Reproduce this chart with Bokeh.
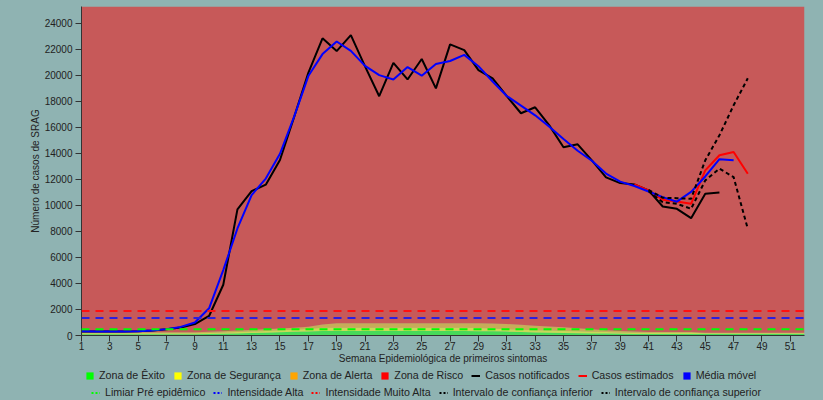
from bokeh.plotting import figure
from bokeh.layouts import column
from bokeh.models import Legend, LegendItem, FixedTicker, Range1d, Span
from bokeh.embed import file_html
from bokeh.resources import INLINE

# ---------------- data ----------------
weeks = list(range(1, 53))
week_ticks = list(range(1, 53, 2))

notified_weeks = list(range(1, 47))
notified = [300, 310, 310, 300, 320, 380, 480, 620, 880, 1500,
            3900, 9700, 11100, 11600, 13500, 16800, 20200, 22850, 21870, 23100,
            20700, 18400, 20970, 19690, 21260, 19000, 22390, 21950, 20410, 19770,
            18400, 17090, 17550, 16160, 14470, 14700, 13470, 12160, 11720, 11620,
            11160, 9920, 9740, 9020, 10900, 11000]

estimated_weeks = [40, 41, 42, 43, 44, 45, 46, 47, 48]
estimated = [11620, 11160, 10440, 10310, 10130, 12700, 13860, 14110, 12440]

ci_weeks = [41, 42, 43, 44, 45, 46, 47, 48]
ci_lower = [11100, 10250, 10130, 9740, 11930, 12830, 12180, 8200]
ci_upper = [11200, 10590, 10560, 10510, 13470, 15400, 17700, 19780]

mm_weeks = list(range(1, 48))
moving_avg = [330, 310, 310, 310, 330, 390, 490, 660, 1000, 2090,
              5030, 8230, 10800, 12070, 13970, 16830, 19950, 21640, 22610, 21890,
              20730, 20020, 19690, 20640, 19980, 20880, 21110, 21580, 20710, 19530,
              18420, 17680, 16930, 16060, 15110, 14210, 13440, 12450, 11830, 11500,
              11070, 10640, 10290, 11050, 12230, 13560, 13470]

# zone upper limits (cumulative)
zone_green = [100, 100, 100, 100, 100, 100, 100, 100, 100, 110,
              130, 160, 190, 220, 250, 280, 310, 340, 340, 340,
              340, 340, 340, 340, 340, 340, 340, 340, 330, 320,
              300, 270, 240, 220, 200, 180, 160, 150, 140, 120,
              120, 120, 120, 120, 120, 120, 120, 120, 120, 120,
              120, 120]
zone_yellow = [180, 180, 180, 180, 180, 180, 180, 180, 180, 200,
               230, 270, 310, 350, 400, 450, 500, 600, 600, 600,
               600, 600, 600, 600, 600, 600, 600, 600, 580, 540,
               480, 440, 410, 380, 350, 320, 290, 260, 230, 210,
               210, 210, 210, 210, 180, 180, 180, 180, 180, 180,
               180, 180]
zone_orange = [250, 250, 250, 250, 250, 250, 250, 250, 250, 280,
               330, 380, 430, 480, 540, 600, 680, 850, 950, 950,
               950, 950, 950, 950, 950, 950, 950, 950, 950, 920,
               880, 820, 750, 700, 640, 560, 480, 400, 350, 300,
               270, 270, 270, 270, 220, 220, 220, 220, 220, 220,
               220, 220]
y_max = 25300

limiar_pre = 490
intensidade_alta = 1340
intensidade_muito_alta = 1880

# ---------------- figure ----------------
BG = "#8fb3b2"
FONT = "Liberation Sans"
STY = {"background-color": BG}
NAN = float("nan")

p = figure(frame_width=723, frame_height=329,
           x_range=Range1d(1, 52), y_range=Range1d(0, y_max),
           output_backend="svg", toolbar_location=None,
           min_border_left=81, min_border_right=19, min_border_top=6, min_border_bottom=31,
           background_fill_color=BG, border_fill_color=BG, outline_line_color=None,
           styles=STY)
p.grid.visible = False

# zones
p.varea(x=weeks, y1=[0] * 52, y2=zone_green, fill_color="#00ff00", fill_alpha=0.5)
p.varea(x=weeks, y1=zone_green, y2=zone_yellow, fill_color="#ffff00", fill_alpha=0.5)
p.varea(x=weeks, y1=zone_yellow, y2=zone_orange, fill_color="#ffa500", fill_alpha=0.5)
p.varea(x=weeks, y1=zone_orange, y2=[y_max] * 52, fill_color="#ff0000", fill_alpha=0.5)

# thresholds
for val, col in [(intensidade_muito_alta, "#ff1010"), (intensidade_alta, "#2a1ee0"), (limiar_pre, "#00ff00")]:
    p.add_layout(Span(location=val, dimension="width", line_color=col,
                      line_width=2, line_dash="8 6"))

# series
p.line(notified_weeks, notified, line_color="black", line_width=2)
p.line(estimated_weeks, estimated, line_color="#ff0000", line_width=2)
p.line(mm_weeks, moving_avg, line_color="#0000ff", line_width=2)
p.line(ci_weeks, ci_lower, line_color="black", line_width=2, line_dash="4 3")
p.line(ci_weeks, ci_upper, line_color="black", line_width=2, line_dash="4 3")

# axes
for ax in (p.xaxis[0], p.yaxis[0]):
    ax.axis_line_color = "#333333"
    ax.major_tick_line_color = "#333333"
    ax.major_tick_out = 6
    ax.major_tick_in = 0
    ax.minor_tick_line_color = None
    ax.major_label_text_font = FONT
    ax.major_label_text_font_size = "10px"
    ax.major_label_text_color = "#222222"
    ax.axis_label_text_font = FONT
    ax.axis_label_text_font_size = "10px"
    ax.axis_label_text_font_style = "normal"
    ax.axis_label_text_color = "#222222"

p.xaxis.ticker = FixedTicker(ticks=week_ticks)
p.xaxis.axis_label = "Semana Epidemiológica de primeiros sintomas"
p.xaxis.axis_label_standoff = 0
p.xaxis.major_label_standoff = 0
p.yaxis.ticker = FixedTicker(ticks=list(range(0, 25000, 2000)))
p.yaxis.axis_label = "Número de casos de SRAG"
p.yaxis.axis_label_standoff = 1
p.yaxis.major_label_standoff = 3

# ---------------- legend strip ----------------
lg = figure(width=823, height=34, x_range=Range1d(0, 1), y_range=Range1d(0, 1),
            x_axis_type=None, y_axis_type=None,
            output_backend="svg", toolbar_location=None,
            min_border_left=0, min_border_right=0, min_border_top=0, min_border_bottom=0,
            background_fill_color=BG, border_fill_color=BG, outline_line_color=None,
            styles=STY)
lg.grid.visible = False


# legend proxies: NaN geometry, so they only appear as legend swatches
def sq(c):
    return lg.quad(left=[NAN], right=[NAN], top=[NAN], bottom=[NAN], fill_color=c, line_color=None)


def ln(c, dash="solid"):
    return lg.line([NAN], [NAN], line_color=c, line_width=2, line_dash=dash)


row1 = [("Zona de Êxito", sq("#00ff00")), ("Zona de Segurança", sq("#ffff00")),
        ("Zona de Alerta", sq("#ffa500")), ("Zona de Risco", sq("#ff0000")),
        ("Casos notificados", ln("black")), ("Casos estimados", ln("#ff0000")),
        ("Média móvel", sq("#0000ff"))]
row2 = [("Limiar Pré epidêmico", ln("#00ff00", "2 2")), ("Intensidade Alta", ln("#0000ff", "2 2")),
        ("Intensidade Muito Alta", ln("#ff0000", "2 2")),
        ("Intervalo de confiança inferior", ln("black", "2 2")),
        ("Intervalo de confiança superior", ln("black", "2 2"))]

for row, loc in ((row1, (4, 19)), (row2, (10, 2))):
    leg = Legend(items=[LegendItem(label=t, renderers=[r], index=0) for t, r in row],
                 orientation="horizontal", location=loc,
                 glyph_width=9, glyph_height=9, label_standoff=5, spacing=8,
                 padding=1, margin=0, border_line_color=None, background_fill_alpha=0,
                 label_text_font=FONT, label_text_font_size="10.7px",
                 label_text_color="#222222", label_height=11)
    lg.add_layout(leg, "center")

layout = column(p, lg, spacing=0, styles=STY)
open("out.html", "w").write(file_html(layout, INLINE))
